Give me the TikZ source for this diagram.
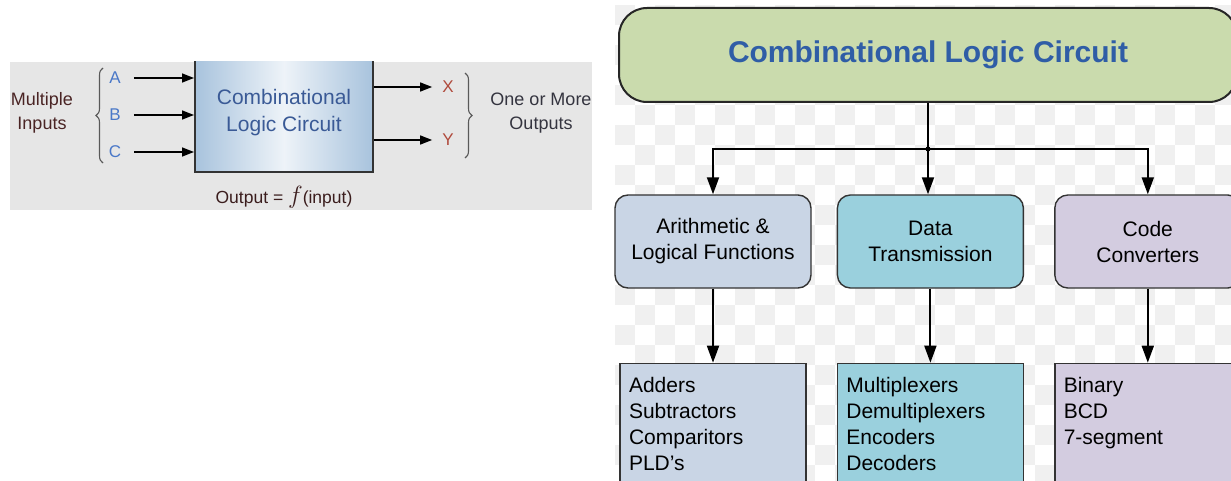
\documentclass[tikz,border=0pt]{standalone}
\usepackage{fontspec}
\setmainfont{Liberation Sans}
\usetikzlibrary{arrows.meta,positioning,decorations.pathreplacing}
\definecolor{panelgray}{HTML}{E6E6E6}
\definecolor{boxblue}{HTML}{A8C3DD}
\definecolor{txtblue}{HTML}{3A5A96}
\definecolor{inblue}{HTML}{4A78C8}
\definecolor{outred}{HTML}{B04A3C}
\definecolor{darkmaroon}{HTML}{4A2424}
\definecolor{slate}{HTML}{34343F}
\definecolor{titlegreen}{HTML}{CADBAD}
\definecolor{titleblue}{HTML}{2F5DA6}
\definecolor{arithfill}{HTML}{C9D5E5}
\definecolor{datafill}{HTML}{9AD0DD}
\definecolor{codefill}{HTML}{D3CCE0}
\definecolor{checkgray}{HTML}{F0F0F0}

\begin{document}
\begin{tikzpicture}[x=1pt,y=-1pt,
   wire/.style={line width=1.5pt,-{Triangle[length=12pt,width=9pt]}},
   feed/.style={line width=1.9pt,-{Triangle[length=17pt,width=12pt]}},
   lbl/.style={inner sep=0pt,font=\fontsize{17}{20}\selectfont},
   note/.style={inner sep=0pt,align=center,font=\fontsize{18}{24}\selectfont},
   brace/.style={decorate,decoration={brace,amplitude=7pt},draw=black!65,line width=1.1pt},
   cat/.style={draw=black!80,line width=1.4pt,rounded corners=13pt,minimum width=186pt,
               minimum height=93pt,align=center,inner sep=0pt,font=\fontsize{21}{26}\selectfont},
   list/.style={draw=black!80,line width=1.4pt,text width=168pt,align=left,inner xsep=9pt,
               inner ysep=8pt,text height=21pt,text depth=110pt,font=\fontsize{21}{26}\selectfont}]
  \useasboundingbox (0,0) rectangle (1231,481);
  \clip (0,0) rectangle (1231,481);

  % left panel: block view
  \begin{scope}
    \clip (10,62) rectangle (592,210);
    \fill[panelgray] (10,62) rectangle (592,210);
    \node[draw=black!80,line width=2pt,left color=boxblue,right color=boxblue,
          middle color=boxblue!20,minimum width=178pt,minimum height=118pt,align=center,
          text=txtblue,font=\fontsize{21}{27}\selectfont] (clc) at (284,113)
      {Combinational\\Logic Circuit};
    \node[lbl,text=inblue] (inA) at (115,78) {A};
    \node[lbl,text=inblue] (inB) at (115,115) {B};
    \node[lbl,text=inblue] (inC) at (115,152) {C};
    \draw[wire] ([xshift=13pt]inA.east) -- (inA -| clc.west);
    \draw[wire] ([xshift=13pt]inB.east) -- (inB -| clc.west);
    \draw[wire] ([xshift=13pt]inC.east) -- (inC -| clc.west);
    \node[lbl,text=outred] (outX) at (448,87) {X};
    \node[lbl,text=outred] (outY) at (448,140) {Y};
    \draw[wire] (outX -| clc.east) -- ([xshift=-10pt]outX.west);
    \draw[wire] (outY -| clc.east) -- ([xshift=-10pt]outY.west);
    \draw[brace] (103,163) -- (103,68);
    \draw[brace] (465,73) -- (465,158);
    \node[note,text=darkmaroon] (multi) at (42,113) {Multiple\\Inputs};
    \node[note,text=slate] (more) at (541,113) {One or More\\Outputs};
    \node[lbl,text=darkmaroon!80!black,font=\fontsize{17.5}{20}\selectfont] (fn) at (284,197)
      {Output = {\fontsize{24}{24}\selectfont$f$}(input)};
  \end{scope}

  % right panel: classification tree
  \begin{scope}
    \clip (615,5) rectangle (1231,481);
    \foreach \i in {0,...,30}
      \foreach \j in {0,...,23}
        {\ifodd\numexpr\i+\j\relax\else
           \fill[checkgray] ({615+20*\i},{5+20*\j}) rectangle ++(20,20);
         \fi}
  \end{scope}
  \node[draw=black!85,line width=2pt,fill=titlegreen,rounded corners=28pt,
        minimum width=618pt,minimum height=94pt,text=titleblue,
        font=\bfseries\fontsize{30}{36}\selectfont] (title) at (928,55)
    {Combinational Logic Circuit};
  \node[cat,fill=arithfill,minimum width=196pt] (arith) at (713,241.5)
    {Arithmetic \&\\Logical Functions};
  \node[cat,fill=datafill,right=25pt of arith] (data) {Data\\Transmission};
  \node[cat,fill=codefill,right=30pt of data] (code) {Code\\Converters};
  \node[list,fill=arithfill,below=74pt of arith] (arithlist)
    {Adders\\Subtractors\\Comparitors\\PLD's};
  \node[list,fill=datafill,below=74pt of data] (datalist)
    {Multiplexers\\Demultiplexers\\Encoders\\Decoders};
  \node[list,fill=codefill,below=74pt of code] (codelist)
    {Binary\\BCD\\7-segment};

  \draw[line width=1.9pt] (title.south) -- ++(0,46) coordinate (split);
  \fill (split) circle (2.5pt);
  \draw[feed] (split) -| (arith.north);
  \draw[feed] (split) -- (split |- data.north);
  \draw[feed] (split) -| (code.north);
  \draw[feed] (arith) -- (arithlist);
  \draw[feed] (data) -- (datalist);
  \draw[feed] (code) -- (codelist);
\end{tikzpicture}
\end{document}
